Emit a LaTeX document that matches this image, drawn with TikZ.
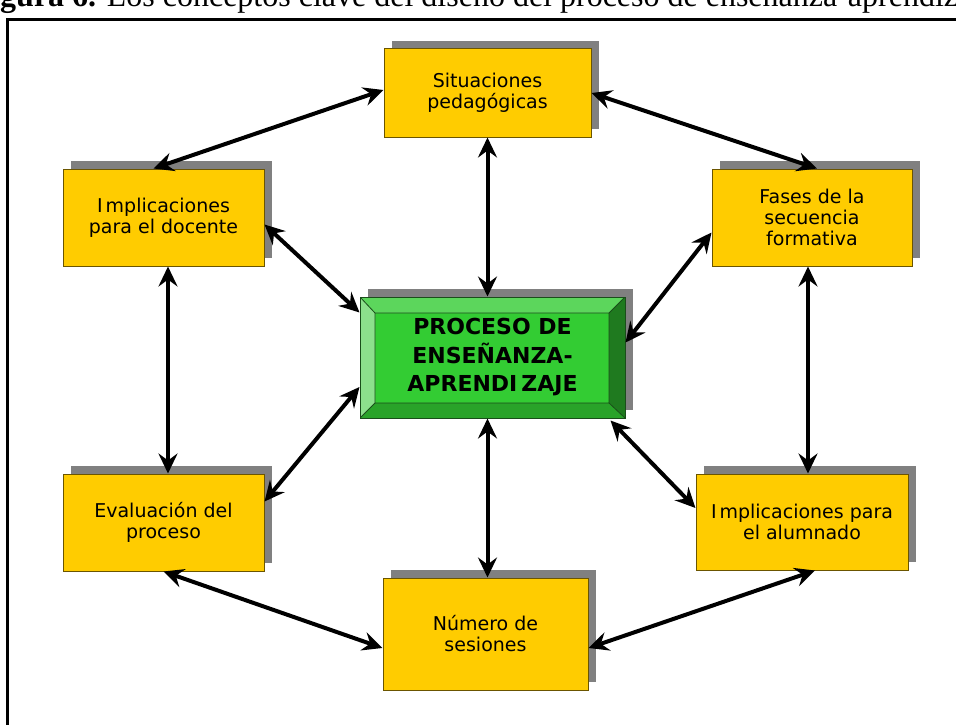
\documentclass[tikz,border=0pt]{standalone}
\usepackage{fontspec}
\setmainfont{DejaVu Sans}
\newfontfamily\titlefont{Liberation Serif}
\usetikzlibrary{arrows.meta,shadows,calc}

\definecolor{boxyellow}{HTML}{FFCC00}
\definecolor{boxedge}{HTML}{6B5500}
\definecolor{shadowgray}{HTML}{808080}
\definecolor{bevface}{HTML}{33CC33}
\definecolor{bevtop}{HTML}{5CD65C}
\definecolor{bevleft}{HTML}{8CE08C}
\definecolor{bevright}{HTML}{1F7A1F}
\definecolor{bevbottom}{HTML}{29A329}
\definecolor{bevedge}{HTML}{1A4D1A}

\begin{document}
\begin{tikzpicture}[x=1pt,y=-1pt,
  boxshadow/.style={drop shadow={shadow xshift=8pt, shadow yshift=8pt, opacity=1, fill=shadowgray}},
  concept/.style={draw=boxedge, line width=1pt, fill=boxyellow, align=center, inner sep=0pt,
    font=\fontsize{19}{21}\selectfont, boxshadow},
  corebox/.style={draw=bevedge, line width=1pt, fill=bevface, align=center, inner sep=0pt,
    font=\bfseries\fontsize{22}{28.5}\selectfont, boxshadow,
    path picture={
      \coordinate (o1) at (path picture bounding box.north west);
      \coordinate (o3) at (path picture bounding box.south east);
      \coordinate (o2) at (o3 |- o1);
      \coordinate (o4) at (o1 |- o3);
      \coordinate (i1) at ($(o1)+(15,16)$);
      \coordinate (i2) at ($(o2)+(-16,16)$);
      \coordinate (i3) at ($(o3)+(-16,-15)$);
      \coordinate (i4) at ($(o4)+(15,-15)$);
      \fill[bevtop] (o1)--(o2)--(i2)--(i1)--cycle;
      \fill[bevright] (o2)--(o3)--(i3)--(i2)--cycle;
      \fill[bevbottom] (o3)--(o4)--(i4)--(i3)--cycle;
      \fill[bevleft] (o4)--(o1)--(i1)--(i4)--cycle;
      \draw[bevedge, line width=0.8pt] (i1)--(i2)--(i3)--(i4)--cycle
        (o1)--(i1) (o2)--(i2) (o3)--(i3) (o4)--(i4);
    }},
  link/.style={line width=4pt,
    {Stealth[length=20pt,width=19pt,inset=7pt]}-{Stealth[length=20pt,width=19pt,inset=7pt]}},
 ]
\useasboundingbox (0,0) rectangle (956,725);

% caption line running off the top of the page
\node[font=\titlefont\fontsize{32}{36}\selectfont, anchor=base west, inner sep=0pt] (title) at (0,7)
  {\llap{\textbf{Fi}}\textbf{gura 6.} Los conceptos clave del diseño del proceso de enseñanza-aprendizaje};

% outer frame
\draw[line width=3pt] (7,20) rectangle (990,760);

% concept boxes
\node[concept, minimum width=207pt, minimum height=88pt] (S) at (487.5,93) {Situaciones\\pedagógicas};
\node[concept, minimum width=201pt, minimum height=97pt] (D) at (163.5,217.5) {I\kern3pt mplicaciones\\para el docente};
\node[concept, minimum width=200pt, minimum height=97pt] (F) at (812,217.5) {Fases de la\\secuencia\\formativa};
\node[concept, minimum width=201pt, minimum height=97pt] (E) at (163.5,522.5) {Evaluación del\\proceso};
\node[concept, minimum width=212pt, minimum height=96pt] (A) at (802,522) {I\kern3pt mplicaciones para\\el alumnado};
\node[concept, minimum width=205pt, minimum height=112pt] (N) at (485.5,634) {Número de\\sesiones};

% central bevelled box
\node[corebox, minimum width=265pt, minimum height=121pt] (C) at (492.5,357.5)
  {PROCESO DE\\ENSEÑANZA-\\APRENDI\kern4pt ZAJE};

% two-way links
\draw[link] ([yshift=3]S.west) -- ([xshift=-10]D.north);
\draw[link] (S.east) -- ([xshift=5]F.north);
\draw[link] (S.south) -- (S.south |- C.north);
\draw[link] ([yshift=-7]D.east) -- ([yshift=-16]C.north west);
\draw[link] ([yshift=-15]F.west) -- ([yshift=15]C.east);
\draw[link] ([xshift=4.5]D.south) -- ([xshift=4.5]E.north);
\draw[link] ([xshift=-4]F.south) -- ([xshift=6]A.north);
\draw[link] ([yshift=21]E.east) -- ([yshift=-29.5]C.west);
\draw[link] ([yshift=14]A.west) -- ([xshift=-15,yshift=-2]C.south east);
\draw[link] ([xshift=-5]C.south) -- ([xshift=2]N.north);
\draw[link] (E.south) -- ([yshift=-14]N.west);
\draw[link] ([xshift=13]A.south) -- ([yshift=-14]N.east);
\end{tikzpicture}
\end{document}
